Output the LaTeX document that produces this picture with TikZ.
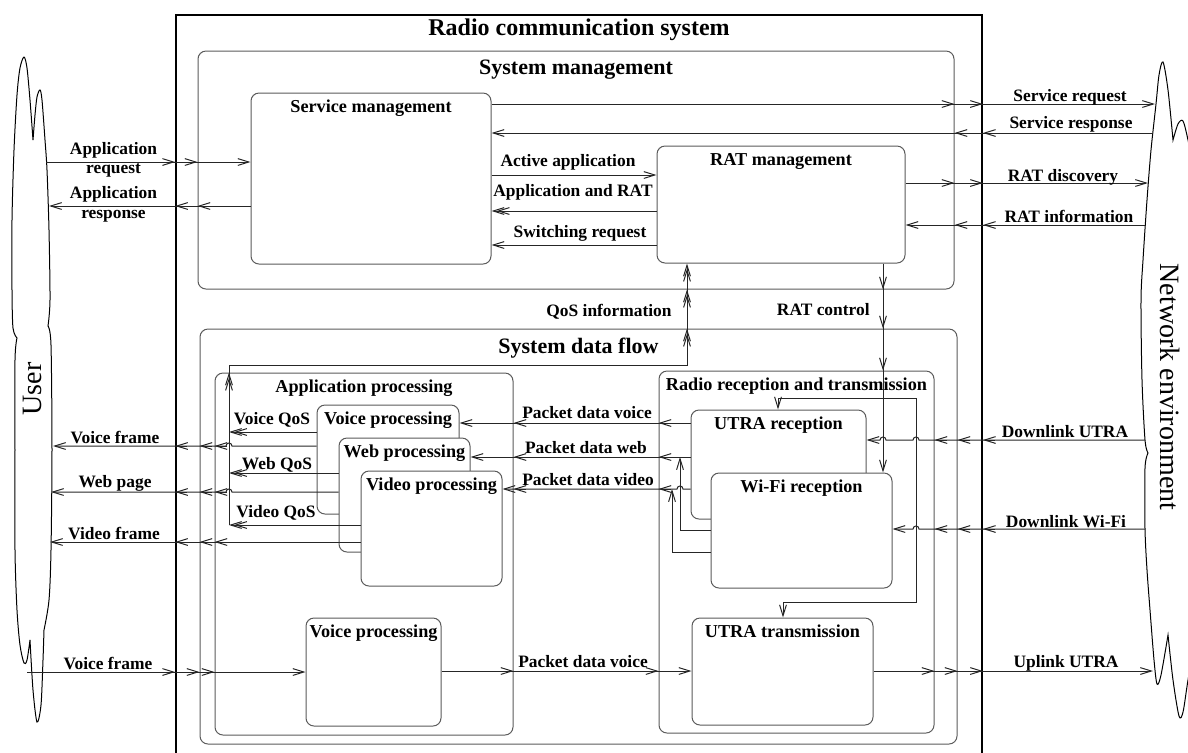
\documentclass[tikz,border=0pt]{standalone}
\usepackage{fontspec}
\setmainfont{Liberation Serif}
\usetikzlibrary{
  arrows.meta,
  calc,
  fit,
  positioning
}
\definecolor{rcsGray}{HTML}{5A5A5A}
\definecolor{rcsLine}{HTML}{262626}
\tikzset{
  rcsFrame/.style={draw=rcsGray, line width=0.5pt, rounded corners=4pt, inner sep=0pt},
  rcsBox/.style={rcsFrame, fill=white},
  outerFrame/.style={draw=black, line width=0.9pt, inner sep=0pt},
  mainTitle/.style={font=\bfseries\fontsize{12}{14}\selectfont, inner sep=0pt},
  groupTitle/.style={font=\bfseries\fontsize{11}{13}\selectfont, inner sep=0pt},
  boxTitle/.style={font=\bfseries\fontsize{9.1}{11}\selectfont, inner sep=0pt},
  sigLabel/.style={font=\bfseries\fontsize{8.7}{9.8}\selectfont, inner sep=0pt},
  sideLabel/.style={font=\fontsize{14}{16}\selectfont, inner sep=0pt},
  sigLine/.style={draw=rcsLine, line width=0.5pt},
  sigArrow/.style={sigLine, -{Straight Barb[length=5.5pt,width=3.4pt]}},
  cloudLine/.style={draw=black, line width=0.5pt},
  hopL/.style={insert path={-- ($(#1)+(3,0)$) .. controls ($(#1)+(3,-4)$) and ($(#1)+(-3,-4)$) .. ($(#1)+(-3,0)$)}}
}
% extra arrow tip where a signal enters a frame
\newcommand\sigTip[2]{\draw[sigArrow] ($(#1)+(#2:-6pt)$) -- (#1);}
\newcommand\sigTipBack[2]{\draw[sigArrow] ($(#1)+(#2:-8pt)$) -- ($(#1)+(#2:-2.6pt)$);}

\begin{document}
\begin{tikzpicture}[x=0.5pt,y=-0.5pt]
  \useasboundingbox (0,0) rectangle (1188,752);

  % user and network environment
  \draw[cloudLine]
    plot[smooth] coordinates {(33,140) (30,100) (27,68) (24,57) (20,68) (17,95) (14,150) (12,220) (12,290) (13,328) (17,338)}
    -- plot[smooth] coordinates {(17,338) (15,360) (15,450) (15,550) (17,610) (20,645) (24,663) (27,660) (30,640)}
    -- plot[smooth] coordinates {(30,640) (33,690) (37,722) (41,705) (43,660) (44,630)}
    -- plot[smooth] coordinates {(44,630) (49,600) (51,550) (52,450) (51,345) (48,326)}
    -- plot[smooth] coordinates {(48,326) (50,300) (49,230) (47,170) (45,140) (42,100) (40,90) (37,97) (35,115) (33,140)};
  \draw[cloudLine]
    plot[smooth] coordinates {(1195,175) (1188,140) (1183,121) (1178,124) (1173,140)}
    -- plot[smooth] coordinates {(1173,140) (1168,90) (1163,62) (1159,75) (1156,104) (1151,150) (1147,200) (1143,260) (1141,300) (1142,380) (1145,440) (1148,453)}
    -- plot[smooth] coordinates {(1148,453) (1145,468) (1145,529) (1147,570) (1150,610) (1154,660) (1157,684) (1161,675) (1168,635)}
    -- plot[smooth] coordinates {(1168,635) (1173,680) (1179,716) (1183,712) (1188,680) (1195,640)};
  \node[sideLabel, rotate=90] (user-t) at (32,389) {User};
  \node[sideLabel, rotate=-90] (net-t) at (1170,387) {Network environment};

  % frames
  \node[outerFrame, fit={(176,15) (982,762)}] (outer) {};
  \node[mainTitle] (outer-t) at (579,30) {Radio communication system};
  \node[rcsFrame, fit={(198,51) (954,289)}] (sysmgmt) {};
  \node[groupTitle, below=4.5pt of sysmgmt.north] (sysmgmt-t) {System management};
  \node[rcsFrame, fit={(200,329) (957,744)}] (dataflow) {};
  \node[groupTitle, below=4.5pt of dataflow.north] (dataflow-t) {System data flow};
  \node[rcsFrame, fit={(215,373) (513,735)}] (appproc) {};
  \node[boxTitle, below=3.7pt of appproc.north] (appproc-t) {Application processing};
  \node[rcsFrame, fit={(659,371) (934,733)}] (radio) {};
  \node[boxTitle, below=3.7pt of radio.north] (radio-t) {Radio reception and transmission};

  % functional blocks
  \foreach \blk/\xa/\ya/\xb/\yb/\ttl in {
      servmgmt/251/93/491/264/Service management,
      ratmgmt/657/146/905/263/RAT management,
      voicea/317/405/459/514/Voice processing,
      webproc/339/438/470/552/Web processing,
      videoproc/361/471/502/586/Video processing,
      voiceb/306/618/441/726/Voice processing,
      utrarx/691/410/866/519/UTRA reception,
      wifirx/711/473/892/588/Wi-Fi reception,
      utratx/692/618/873/725/UTRA transmission}
  {
    \node[rcsBox, fit={(\xa,\ya) (\xb,\yb)}] (\blk) {};
    \node[boxTitle, below=3.7pt of \blk.north] (\blk-t) {\ttl};
  }

  % signal rows and free ends
  \coordinate (areq) at (46,162);
  \coordinate (aresp) at (49,206);
  \coordinate (srq) at (1155,104);
  \coordinate (srsp) at (1153,133);
  \coordinate (actrow) at (0,175);
  \coordinate (apprat) at (0,211);
  \coordinate (swreq) at (0,245);
  \coordinate (ratdisc) at (1148,183);
  \coordinate (ratinfo) at (1145,225);
  \coordinate (ctlx) at (883,0);
  \coordinate (qosx) at (229,0);
  \coordinate (qosux) at (687,0);
  \coordinate (qosrow) at (0,365);
  \coordinate (vqos) at (0,432);
  \coordinate (wqos) at (0,473);
  \coordinate (dqos) at (0,525);
  \coordinate (vfr) at (53,446);
  \coordinate (wpg) at (51,492);
  \coordinate (dfr) at (50,542);
  \coordinate (pdv) at (0,423);
  \coordinate (pdw) at (0,457);
  \coordinate (pdd) at (0,489);
  \coordinate (wfw) at (0,530);
  \coordinate (wfd) at (0,552);
  \coordinate (webjx) at (680,0);
  \coordinate (vidjx) at (672,0);
  \coordinate (dlu) at (1145,440);
  \coordinate (dlw) at (1145,529);
  \coordinate (ulu) at (1153,671);
  \coordinate (vfu) at (27,672);
  \coordinate (pdu) at (0,671);
  \coordinate (busTL) at (778,398);
  \coordinate (busTR) at (916,398);
  \coordinate (busBR) at (916,602);
  \coordinate (busBL) at (783,602);
  \coordinate (j-vfr) at (qosx |- vfr);
  \coordinate (j-wpg) at (qosx |- wpg);
  \coordinate (j-pdd) at (webjx |- pdd);
  \coordinate (j-dlu-bus) at (busTR |- dlu);
  \coordinate (j-dlu-ctl) at (ctlx |- dlu);
  \coordinate (j-dlw) at (busTR |- dlw);

  % system management signals
  \draw[sigArrow] (areq) -- (servmgmt.west |- areq);
  \foreach \bnd in {outer,sysmgmt} {\sigTip{\bnd.west |- areq}{0}}
  \draw[sigArrow] (servmgmt.west |- aresp) -- (aresp);
  \foreach \bnd in {outer,sysmgmt} {\sigTip{\bnd.west |- aresp}{180}}
  \draw[sigArrow] (servmgmt.east |- srq) -- (srq);
  \foreach \bnd in {outer,sysmgmt} {\sigTip{\bnd.east |- srq}{0}}
  \draw[sigArrow] (srsp) -- (servmgmt.east |- srsp);
  \foreach \bnd in {outer,sysmgmt} {\sigTip{\bnd.east |- srsp}{180}}
  \draw[sigArrow] (servmgmt.east |- actrow) -- (ratmgmt.west |- actrow);
  \draw[sigArrow] (ratmgmt.west |- apprat) -- (servmgmt.east |- apprat);
  \sigTipBack{servmgmt.east |- apprat}{180}
  \draw[sigArrow] (ratmgmt.west |- swreq) -- (servmgmt.east |- swreq);
  \draw[sigArrow] (ratmgmt.east |- ratdisc) -- (ratdisc);
  \foreach \bnd in {outer,sysmgmt} {\sigTip{\bnd.east |- ratdisc}{0}}
  \draw[sigArrow] (ratinfo) -- (ratmgmt.east |- ratinfo);
  \foreach \bnd in {outer,sysmgmt} {\sigTip{\bnd.east |- ratinfo}{180}}

  % RAT control
  \draw[sigArrow] (ctlx |- ratmgmt.south) -- (ctlx |- wifirx.north);
  \foreach \bnd in {sysmgmt.south,dataflow.north,radio.north} {\sigTip{ctlx |- \bnd}{270}}
  \draw[sigArrow] (ctlx |- busTL) -- (busTL) -- (busTL |- utrarx.north);
  \draw[sigArrow] (ctlx |- busTR) -- (busTR) -- (busBR) -- (busBL) -- (busBL |- utratx.north);

  % QoS feedback
  \draw[sigArrow] (qosx |- dqos) -- (qosx |- qosrow) -| (qosux |- ratmgmt.south);
  \sigTipBack{qosux |- ratmgmt.south}{90}
  \foreach \pt in {qosx |- appproc.north,qosux |- dataflow.north,qosux |- sysmgmt.south}
    {\sigTip{\pt}{90}\sigTipBack{\pt}{90}}
  \draw[sigArrow] (voicea.west |- vqos) -- (qosx |- vqos);
  \sigTipBack{qosx |- vqos}{180}
  \draw[sigArrow] (webproc.west |- wqos) -- (qosx |- wqos);
  \sigTipBack{qosx |- wqos}{180}
  \draw[sigArrow] (videoproc.west |- dqos) -- (qosx |- dqos);
  \sigTipBack{qosx |- dqos}{180}

  % frames to the user
  \draw[sigArrow] (voicea.west |- vfr) [hopL=j-vfr] -- (vfr);
  \foreach \bnd in {outer,dataflow,appproc} {\sigTip{\bnd.west |- vfr}{180}}
  \draw[sigArrow] (webproc.west |- wpg) [hopL=j-wpg] -- (wpg);
  \foreach \bnd in {outer,dataflow,appproc} {\sigTip{\bnd.west |- wpg}{180}}
  \draw[sigArrow] (videoproc.west |- dfr) -- (dfr);
  \foreach \bnd in {outer,dataflow,appproc} {\sigTip{\bnd.west |- dfr}{180}}

  % packet data from reception
  \draw[sigArrow] (utrarx.west |- pdv) -- (voicea.east |- pdv);
  \foreach \bnd in {radio.west,appproc.east} {\sigTip{\bnd |- pdv}{180}}
  \draw[sigArrow] (utrarx.west |- pdw) -- (webproc.east |- pdw);
  \foreach \bnd in {radio.west,appproc.east} {\sigTip{\bnd |- pdw}{180}}
  \draw[sigArrow] (utrarx.west |- pdd) [hopL=j-pdd] -- (videoproc.east |- pdd);
  \foreach \bnd in {radio.west,appproc.east} {\sigTip{\bnd |- pdd}{180}}
  \draw[sigArrow] (wifirx.west |- wfw) -| (webjx |- pdw);
  \draw[sigArrow] (wifirx.west |- wfd) -| (vidjx |- pdd);

  % radio links
  \draw[sigArrow] (dlu) [hopL=j-dlu-bus] [hopL=j-dlu-ctl] -- (utrarx.east |- dlu);
  \foreach \bnd in {outer,dataflow,radio} {\sigTip{\bnd.east |- dlu}{180}}
  \draw[sigArrow] (dlw) [hopL=j-dlw] -- (wifirx.east |- dlw);
  \foreach \bnd in {outer,dataflow,radio} {\sigTip{\bnd.east |- dlw}{180}}
  \draw[sigArrow] (utratx.east |- ulu) -- (ulu);
  \foreach \bnd in {outer,dataflow,radio} {\sigTip{\bnd.east |- ulu}{0}}

  % uplink voice
  \draw[sigArrow] (vfu) -- (voiceb.west |- vfu);
  \foreach \bnd in {outer,dataflow,appproc} {\sigTip{\bnd.west |- vfu}{0}}
  \draw[sigArrow] (voiceb.east |- pdu) -- (utratx.west |- pdu);
  \foreach \bnd in {appproc.east,radio.west} {\sigTip{\bnd |- pdu}{0}}

  % labels
  \node[sigLabel, align=center] (l-areq) at (113.5,160) {Application\\request};
  \node[sigLabel, align=center] (l-aresp) at (113.5,204.5) {Application\\response};
  \node[sigLabel, anchor=base] (l-srq) at (1070,101) {Service request};
  \node[sigLabel, anchor=base] (l-srsp) at (1071,128.5) {Service response};
  \node[sigLabel, anchor=base] (l-act) at (568,166) {Active application};
  \node[sigLabel, anchor=base] (l-apprat) at (573,196) {Application and RAT};
  \node[sigLabel, anchor=base] (l-swreq) at (580,237) {Switching request};
  \node[sigLabel, anchor=base] (l-ratdisc) at (1063,181) {RAT discovery};
  \node[sigLabel, anchor=base] (l-ratinfo) at (1069,222) {RAT information};
  \node[sigLabel, anchor=base east] (l-qos) at (672,316) {QoS information};
  \node[sigLabel, anchor=base east] (l-ctl) at (870,315) {RAT control};
  \node[sigLabel, anchor=base] (l-vqos) at (272,424) {Voice QoS};
  \node[sigLabel, anchor=base] (l-wqos) at (277,469) {Web QoS};
  \node[sigLabel, anchor=base] (l-dqos) at (276,517) {Video QoS};
  \node[sigLabel, anchor=base] (l-vfr) at (115,443) {Voice frame};
  \node[sigLabel, anchor=base] (l-wpg) at (115,487) {Web page};
  \node[sigLabel, anchor=base] (l-dfr) at (114,539) {Video frame};
  \node[sigLabel, anchor=base] (l-pdv) at (587,418) {Packet data voice};
  \node[sigLabel, anchor=base] (l-pdw) at (586,453) {Packet data web};
  \node[sigLabel, anchor=base] (l-pdd) at (588,485) {Packet data video};
  \node[sigLabel, anchor=base] (l-dlu) at (1065,437.5) {Downlink UTRA};
  \node[sigLabel, anchor=base] (l-dlw) at (1066,527) {Downlink Wi-Fi};
  \node[sigLabel, anchor=base] (l-ulu) at (1066,667) {Uplink UTRA};
  \node[sigLabel, anchor=base] (l-vfu) at (108,669) {Voice frame};
  \node[sigLabel, anchor=base] (l-pdu) at (583,667) {Packet data voice};
\end{tikzpicture}
\end{document}
